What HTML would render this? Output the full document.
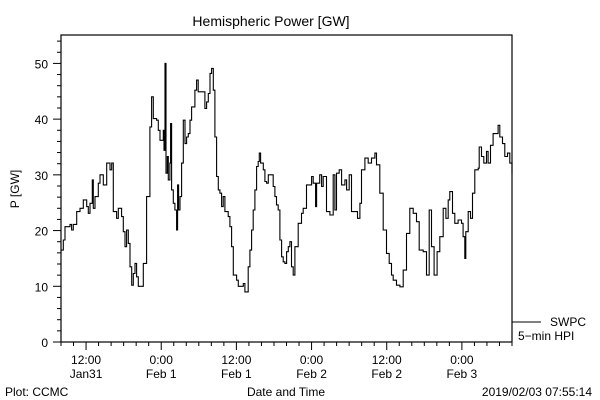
<!DOCTYPE html>
<html><head><meta charset="utf-8"><style>
html,body{margin:0;padding:0;background:#fff;}
svg{display:block;font-family:"Liberation Sans",sans-serif;}
</style></head><body>
<svg id="chart" width="600" height="400" viewBox="0 0 600 400" xmlns="http://www.w3.org/2000/svg">
<rect x="0" y="0" width="600" height="400" fill="#fff"/>
<text x="271" y="26" font-size="14" text-anchor="middle">Hemispheric Power [GW]</text>
<text x="0" y="0" font-size="12" text-anchor="middle" transform="translate(19,189) rotate(-90)">P [GW]</text>
<g id="axes"></g>
<g id="series"></g>
<line x1="512" y1="322" x2="541" y2="322" stroke="#000" stroke-width="1"/>
<text x="550" y="326" font-size="12">SWPC</text>
<text x="518" y="340" font-size="12">5−min HPI</text>
<text x="286" y="396" font-size="12" text-anchor="middle">Date and Time</text>
<text x="5" y="396" font-size="12">Plot: CCMC</text>
<text x="592" y="396" font-size="12" text-anchor="end">2019/02/03 07:55:14</text>
</svg>
<script>
// hours after 2019-01-31 08:00 UT
const hours = [0,0.37,0.64,1.44,1.7,1.97,2.5,3.03,3.56,4.1,4.36,4.63,5.0,5.16,5.43,5.96,6.22,6.76,7.29,7.82,8.09,8.35,8.88,9.15,9.41,9.68,9.95,10.21,10.48,10.74,11.01,11.28,11.54,11.81,12.07,12.34,12.87,13.14,13.67,14.2,14.47,14.73,15.27,15.53,15.8,16.33,16.44,16.6,16.76,16.97,17.13,17.39,17.5,17.66,17.93,18.19,18.46,18.62,18.78,18.99,19.26,19.52,19.79,20.05,20.32,20.59,20.85,21.38,21.65,21.91,22.45,22.98,23.24,23.51,23.78,24.04,24.31,24.57,24.84,25.11,25.37,25.64,25.9,26.17,26.7,26.97,27.23,27.5,28.03,28.3,28.83,29.1,29.36,29.63,29.89,30.16,30.43,30.69,30.96,31.22,31.49,31.65,31.86,32.29,32.55,32.82,33.09,33.62,33.88,34.15,34.41,34.68,34.95,35.21,35.48,35.74,36.01,36.28,36.54,36.8,37.07,37.34,37.87,38.4,38.67,39.2,40.0,40.27,40.64,40.8,41.3,41.6,41.86,42.39,42.93,43.46,43.72,43.99,44.41,44.79,45.32,45.59,46.01,46.38,46.91,47.34,47.71,47.98,48.51,49.04,49.57,50.11,50.37,50.9,51.44,51.97,52.39,52.77,53.03,53.56,54.1,54.63,55.16,55.69,56.22,56.76,57.18,57.82,58.35,58.78,59.15,59.57,60.05,60.48,61.01,61.44,61.81,62.07,62.5,62.87,63.4,63.94,64.2,64.47,64.63,65.0,65.37,65.69,66.06,66.6,66.76,67.13,67.5,67.93,68.19,68.56,68.99,69.41,69.78,70.05,70.48,70.85,71.28,71.65,72.0];
const powerGW = [16.5,18.3,20.7,21.1,20.1,21.1,23.4,24.0,25.5,24.3,23.1,24.9,29.1,24.0,26.1,28.5,30.0,28.2,32.1,30.9,32.1,23.4,22.2,24.0,24.0,22.5,19.8,17.1,20.1,17.7,13.5,10.2,12.3,14.1,11.7,10.0,10.0,14.1,26.1,38.6,44.0,40.1,39.8,38.0,36.2,38.0,34.4,50.0,30.3,33.3,29.1,32.1,39.2,27.3,24.9,23.7,20.1,28.2,23.7,26.1,32.1,39.8,35.6,36.8,37.4,39.8,42.2,45.2,47.0,44.9,44.9,41.9,43.1,44.6,48.2,49.1,45.2,36.8,29.7,27.3,26.7,24.3,26.1,23.4,22.5,20.7,17.1,12.0,11.1,10.0,10.0,10.5,9.0,9.0,13.5,16.5,20.1,23.7,27.3,31.5,32.4,33.9,32.1,30.9,28.8,28.5,30.0,30.0,27.9,26.1,24.6,23.7,18.3,15.3,14.4,14.1,16.2,17.1,18.0,13.5,12.0,17.1,21.3,23.1,24.0,28.2,29.7,28.5,24.3,28.5,30.0,27.9,29.7,23.4,22.8,30.0,23.7,30.3,30.9,28.2,29.1,27.3,30.0,23.4,23.4,22.2,24.9,30.9,33.0,32.1,33.0,33.9,31.8,26.7,20.1,15.9,14.1,12.0,11.1,10.2,9.9,12.9,19.5,24.0,23.1,21.6,16.5,16.2,12.0,23.7,17.1,12.0,16.2,18.9,24.0,22.2,25.5,27.0,23.1,21.3,21.9,21.3,18.9,15.0,19.8,23.4,22.2,26.7,30.9,31.2,35.0,33.3,32.1,34.2,32.1,35.3,37.4,37.4,38.9,36.8,35.6,33.3,33.9,32.1,30.3];
const yTicks = [0,10,20,30,40,50];
const xTickHours = [4,16,28,40,52,64];
const xTickLine1 = ["12:00","0:00","12:00","0:00","12:00","0:00"];
const xTickLine2 = ["Jan31","Feb 1","Feb 1","Feb 2","Feb 2","Feb 3"];

const L=61,R=512,T=35,B=342,H0=0,H1=72,Y0=0,Y1=55.1;
const NS="http://www.w3.org/2000/svg";
const xs=h=>L+(h-H0)/(H1-H0)*(R-L);
const ys=v=>B-(v-Y0)/(Y1-Y0)*(B-T);
function mk(tag,attrs,parent){const e=document.createElementNS(NS,tag);for(const k in attrs)e.setAttribute(k,attrs[k]);parent.appendChild(e);return e;}
const ax=document.getElementById('axes');
const frame=mk('rect',{x:L,y:T,width:R-L,height:B-T,fill:'none',stroke:'#000','stroke-width':1.2},ax);


for(let v=0;v<=54;v+=2){
  const major=v%10===0;
  const t=mk('line',{x1:L-(major?8:4),x2:L,y1:ys(v),y2:ys(v),stroke:'#000'},ax);
  
  
}
yTicks.forEach(v=>{
  const t=mk('text',{x:L-13,y:ys(v)+5,'font-size':12,'text-anchor':'end'},ax);
  t.textContent=v;
  
  
});
for(let h=0;h<=72;h+=2){
  const major=xTickHours.includes(h);
  const t=mk('line',{x1:xs(h),x2:xs(h),y1:B,y2:B+(major?8:4),stroke:'#000'},ax);
  
  
}
xTickHours.forEach((h,i)=>{
  const a=mk('text',{x:xs(h),y:364,'font-size':12,'text-anchor':'middle'},ax);
  a.textContent=xTickLine1[i];
  
  
  const b=mk('text',{x:xs(h),y:378,'font-size':12,'text-anchor':'middle'},ax);
  b.textContent=xTickLine2[i];
  
  
});
let d='';
hours.forEach((h,i)=>{
  const x=xs(h).toFixed(1), y=ys(powerGW[i]).toFixed(1);
  if(i===0){d+='M'+x+','+y;}
  else{d+=' H'+x+' V'+y;}
});
const line=mk('path',{d:d,fill:'none',stroke:'#000','stroke-width':1.1},document.getElementById('series'));


</script>
</body></html>
